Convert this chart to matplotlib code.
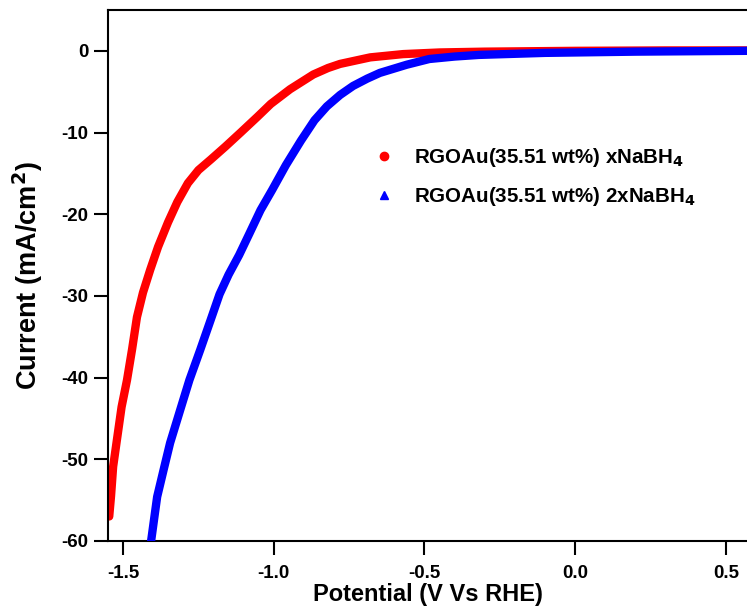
import matplotlib
matplotlib.use("Agg")
import matplotlib.pyplot as plt
from matplotlib.lines import Line2D

plt.rcParams['font.family'] = ['Liberation Sans', 'DejaVu Sans']
plt.rcParams['font.weight'] = 'bold'
plt.rcParams['mathtext.default'] = 'bf'
plt.rcParams['axes.unicode_minus'] = False

# potential (V vs RHE), current (mA/cm2)
x_red = [-1.546, -1.540, -1.533, -1.520, -1.505, -1.487, -1.470, -1.454, -1.434,
         -1.410, -1.384, -1.351, -1.320, -1.285, -1.250, -1.209, -1.160, -1.110,
         -1.055, -1.010, -0.946, -0.869, -0.820, -0.780, -0.680, -0.571, -0.450,
         -0.300, 0.000, 0.300, 0.570]
y_red = [-57.0, -54.5, -50.9, -47.5, -43.6, -40.3, -36.5, -32.6, -29.6,
         -26.8, -24.0, -21.0, -18.5, -16.2, -14.6, -13.3, -11.7, -10.0,
         -8.1, -6.5, -4.7, -2.9, -2.1, -1.6, -0.8, -0.4, -0.2,
         -0.1, 0.0, 0.05, 0.05]

x_blue = [-1.407, -1.387, -1.365, -1.344, -1.310, -1.280, -1.244, -1.210, -1.180,
          -1.150, -1.115, -1.080, -1.044, -1.005, -0.960, -0.910, -0.865, -0.824,
          -0.780, -0.737, -0.690, -0.648, -0.559, -0.484, -0.400, -0.320, -0.100,
          0.200, 0.570]
y_blue = [-60.0, -54.6, -51.2, -48.0, -43.9, -40.3, -36.6, -33.0, -29.8,
          -27.4, -25.0, -22.3, -19.5, -17.0, -14.0, -11.0, -8.5, -6.8,
          -5.4, -4.3, -3.4, -2.7, -1.7, -1.0, -0.7, -0.5, -0.25,
          -0.1, 0.0]

labels = ['RGOAu(35.51 wt%) xNaBH$_4$', 'RGOAu(35.51 wt%) 2xNaBH$_4$']
xticks = [-1.5, -1.0, -0.5, 0.0, 0.5]
yticks = [0, -10, -20, -30, -40, -50, -60]

fig = plt.figure(figsize=(7.47, 6.09), dpi=100)
ax = fig.add_axes([0.1446, 0.1117, 0.8554, 0.8719])

ax.plot(x_red, y_red, '-', color='red', lw=6, solid_capstyle='round',
        solid_joinstyle='round', zorder=2)
ax.plot(x_blue, y_blue, '-', color='blue', lw=6, solid_capstyle='round',
        solid_joinstyle='round', zorder=3)

ax.set_xlim(-1.55, 0.57)
ax.set_ylim(-60, 5)
ax.set_xticks(xticks)
ax.set_xticklabels(['%.1f' % v for v in xticks])
ax.set_yticks(yticks)

ax.spines['right'].set_visible(False)
for s in ['left', 'bottom', 'top']:
    ax.spines[s].set_linewidth(1.5)
ax.tick_params(direction='out', length=10, width=1.5, labelsize=13.5)
ax.tick_params(axis='x', pad=7)
ax.tick_params(axis='y', pad=4)

ax.set_xlabel('Potential (V Vs RHE)', fontsize=17, fontweight='bold', labelpad=1)
ax.set_ylabel('Current (mA/cm$^2$)', fontsize=19.5, fontweight='bold', labelpad=12)

handles = [Line2D([], [], marker='o', ls='none', color='red', ms=6),
           Line2D([], [], marker='^', ls='none', color='blue', ms=6)]
ax.legend(handles, labels, loc='upper left', bbox_to_anchor=(0.383, 0.778),
          frameon=False, fontsize=14.8, handletextpad=0.9, labelspacing=0.75,
          handlelength=1.2)

fig.savefig('out.png', dpi=100)
